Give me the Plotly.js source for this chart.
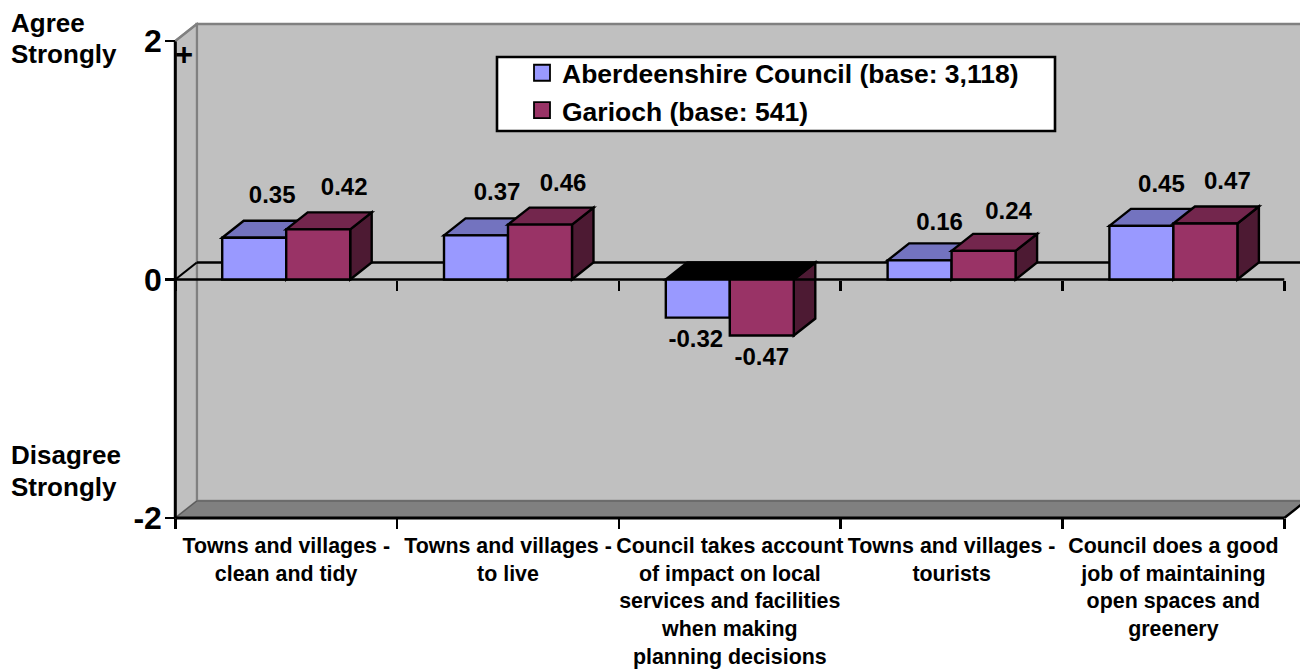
<!DOCTYPE html>
<html><head><meta charset="utf-8">
<script src="https://cdn.plot.ly/plotly-3.0.1.min.js"></script>
<style>html,body{margin:0;padding:0;background:#fff}#chart{width:1300px;height:669px}</style>
</head><body><div id="chart"></div>
<script>
const categories = [
  "Towns and villages -<br>clean and tidy",
  "Towns and villages -<br>to live",
  "Council takes account<br>of impact on local<br>services and facilities<br>when making<br>planning decisions",
  "Towns and villages -<br>tourists",
  "Council does a good<br>job of maintaining<br>open spaces and<br>greenery"
];
const seriesNames = ["Aberdeenshire Council (base: 3,118)", "Garioch (base: 541)"];
const aberdeenshire = [0.35, 0.37, -0.32, 0.16, 0.45];
const garioch = [0.42, 0.46, -0.47, 0.24, 0.47];
const yTicks = [-2, 0, 2];
const centres = [0.5, 1.5, 2.5, 3.5, 4.5];
const boundaries = [0, 1, 2, 3, 4, 5];
// hand placement of the value labels relative to each bar, in pixels
const labelShiftXA = [18, 21, -2, 20, 20];
const labelShiftXG = [26, 23, 0, 25, 22];
const labelShiftYA = [41, 41, 23, 36, 40];
const labelShiftYG = [40, 40, 23, 38, 40];

const W = 1300, H = 669;
const x0px = 175.3, catPx = 221.8, y0px = 279.5, unitPx = 119.25;
const xRange = [-x0px / catPx, (W - x0px) / catPx];
const yRange = [(y0px - H) / unitPx, y0px / unitPx];
const dx = 21.5 / catPx, dy = 17 / unitPx;
const barW = 0.2885;
const F = "Liberation Sans";
const BLUE = {front: "#9999FF", top: "#7373BF", side: "#4D4D80"};
const RED = {front: "#993366", top: "#73264D", side: "#4D1A33"};
const EDGE = 2.4;

const poly = (pts, fill, lineColor, lineWidth) => ({
  type: "path", xref: "x", yref: "y", layer: "below",
  path: "M" + pts.map(p => p[0] + "," + p[1]).join("L") + "Z",
  fillcolor: fill, line: {color: lineColor, width: lineWidth}
});
const seg = (a, b, color, width) => ({
  type: "line", xref: "x", yref: "y", layer: "below",
  x0: a[0], y0: a[1], x1: b[0], y1: b[1], line: {color, width}
});

const shapes = [];
// walls and floor
shapes.push(poly([[dx, -2 + dy], [dx, 2 + dy], [5 + dx, 2 + dy], [5 + dx, -2 + dy]], "#C0C0C0", "#808080", 2.6));
shapes.push(poly([[0, -2], [0, 2], [dx, 2 + dy], [dx, -2 + dy]], "#C0C0C0", "#808080", 2));
shapes.push(poly([[0, -2], [dx, -2 + dy], [5 + dx, -2 + dy], [5, -2]], "#808080", "#595959", 1.2));
shapes.push(seg([dx, dy], [5 + dx, dy], "#000", 2.6));
shapes.push(seg([0, 0], [dx, dy], "#000", 2.2));

// depth faces, series by series, through the same value arrays
function faces(values, shift, c) {
  values.forEach((v, i) => {
    if (v < 0) return;
    const l = centres[i] + shift, r = l + barW;
    shapes.push(poly([[r, 0], [r + dx, dy], [r + dx, v + dy], [r, v]], c.side, "#000", EDGE));
    shapes.push(poly([[l, v], [l + dx, v + dy], [r + dx, v + dy], [r, v]], c.top, "#000", EDGE));
  });
}
faces(aberdeenshire, -barW, BLUE);
faces(garioch, 0, RED);
garioch.forEach((v, i) => {
  if (v >= 0) return;
  const l = centres[i] - barW, m = centres[i] + barW;
  shapes.push(poly([[m, 0], [m + dx, dy], [m + dx, v + dy], [m, v]], RED.side, "#000", EDGE));
  shapes.push(poly([[l, 0], [l + dx, dy], [m + dx, dy], [m, 0]], "#000", "#000", EDGE));
});

// axis lines
shapes.push(seg([0, -2], [0, 2], "#000", 3));
shapes.push(seg([0, 0], [5, 0], "#000", 2.6));
shapes.push(seg([0, -2], [5, -2], "#000", 3));
shapes.push(seg([5, -2], [5 + dx, -2 + dy], "#000", 2.4));
shapes.push(seg([0, 2], [dx, 2 + dy], "#808080", 2.4));

// legend box, sitting on the wall under the legend entries
const pxX = p => (p - x0px) / catPx, pxY = p => (y0px - p) / unitPx;
shapes.push({
  type: "rect", xref: "x", yref: "y", layer: "below",
  x0: pxX(497), x1: pxX(1055), y0: pxY(131), y1: pxY(57),
  fillcolor: "#fff", line: {color: "#000", width: 2.6}
});

const txtFont = {family: F, size: 24, color: "#000", weight: 700};

const barTrace = (name, values, col) => ({
  type: "bar", name, x: centres, y: values, showlegend: false, hoverinfo: "skip",
  marker: {color: col, line: {color: "#000", width: EDGE}}
});
const labelTrace = (values, shift, sx, sy) => ({
  type: "scatter", mode: "text",
  x: values.map((v, i) => centres[i] + shift + barW / 2 + sx[i] / catPx),
  y: values.map((v, i) => v + (v >= 0 ? sy[i] : -sy[i]) / unitPx),
  text: values.map(v => v.toFixed(2)), textposition: "middle center",
  textfont: txtFont, showlegend: false, hoverinfo: "skip", cliponaxis: false
});
const legendTrace = (name, col) => ({
  type: "scatter", mode: "markers", name, x: [null], y: [null], hoverinfo: "skip",
  marker: {symbol: "square", size: 16, color: col, line: {color: "#000", width: 1.8}}
});
const axisCarrier = (xa) => ({
  type: "scatter", mode: "markers", x: [0], y: [0], xaxis: xa, yaxis: "y",
  marker: {opacity: 0}, showlegend: false, hoverinfo: "skip"
});

const data = [
  barTrace(seriesNames[0], aberdeenshire, BLUE.front),
  barTrace(seriesNames[1], garioch, RED.front),
  labelTrace(aberdeenshire, -barW, labelShiftXA, labelShiftYA),
  labelTrace(garioch, 0, labelShiftXG, labelShiftYG),
  legendTrace(seriesNames[0], BLUE.front),
  legendTrace(seriesNames[1], RED.front),
  axisCarrier("x2"),
  axisCarrier("x3")
];

const tickAxis = (pos) => ({
  overlaying: "x", anchor: "free", position: pos, range: xRange, side: "bottom",
  tickmode: "array", tickvals: boundaries, ticktext: boundaries.map(() => ""),
  ticks: "outside", ticklen: 10, tickwidth: 2.5, tickcolor: "#000",
  showgrid: false, zeroline: false, showline: false, fixedrange: true
});

const note = (text, x, y, size) => ({
  text, xref: "paper", yref: "paper", x: x / W, y: 1 - y / H, xanchor: "left", yanchor: "middle",
  showarrow: false, align: "left", font: {family: F, size, color: "#000", weight: 700}
});

const layout = {
  width: W, height: H, margin: {l: 0, r: 0, t: 0, b: 0, pad: 0},
  paper_bgcolor: "#fff", plot_bgcolor: "#fff",
  font: {family: F, color: "#000"},
  barmode: "group", bargap: 1 - 2 * barW, bargroupgap: 0,
  hovermode: false, dragmode: false,
  xaxis: {
    range: xRange, anchor: "free", position: (H - 518) / H, side: "bottom",
    tickmode: "array", tickvals: centres, ticktext: categories,
    ticks: "outside", ticklen: 8, tickcolor: "rgba(0,0,0,0)",
    tickangle: 0, tickfont: {family: F, size: 21.4, color: "#000", weight: 700},
    showgrid: false, zeroline: false, showline: false, fixedrange: true
  },
  xaxis2: tickAxis((H - 518) / H),
  xaxis3: tickAxis((H - y0px) / H),
  yaxis: {
    range: yRange, anchor: "free", position: x0px / W, side: "left",
    tickmode: "array", tickvals: yTicks, ticktext: yTicks.map(String),
    ticks: "outside", ticklen: 10, tickwidth: 2.5, tickcolor: "#000",
    ticklabelstandoff: -3,
    tickfont: {family: F, size: 32, color: "#000", weight: 700},
    showgrid: false, zeroline: false, showline: false, fixedrange: true
  },
  legend: {
    x: 495 / W, y: 1 - 49 / H, xanchor: "left", yanchor: "top",
    bgcolor: "rgba(0,0,0,0)", borderwidth: 0,
    font: {family: F, size: 26.5, color: "#000", weight: 700},
    itemwidth: 30, indentation: 27,
    itemclick: false, itemdoubleclick: false, orientation: "v"
  },
  shapes,
  annotations: [
    note("Agree", 8.5, 23, 26), note("Strongly", 8.5, 54, 26),
    note("Disagree", 8.5, 455, 26), note("Strongly", 8.5, 487, 26),
    note("+", 173, 54, 31)
  ]
};
Plotly.newPlot("chart", data, layout, {displayModeBar: false, staticPlot: true});
</script></body></html>
